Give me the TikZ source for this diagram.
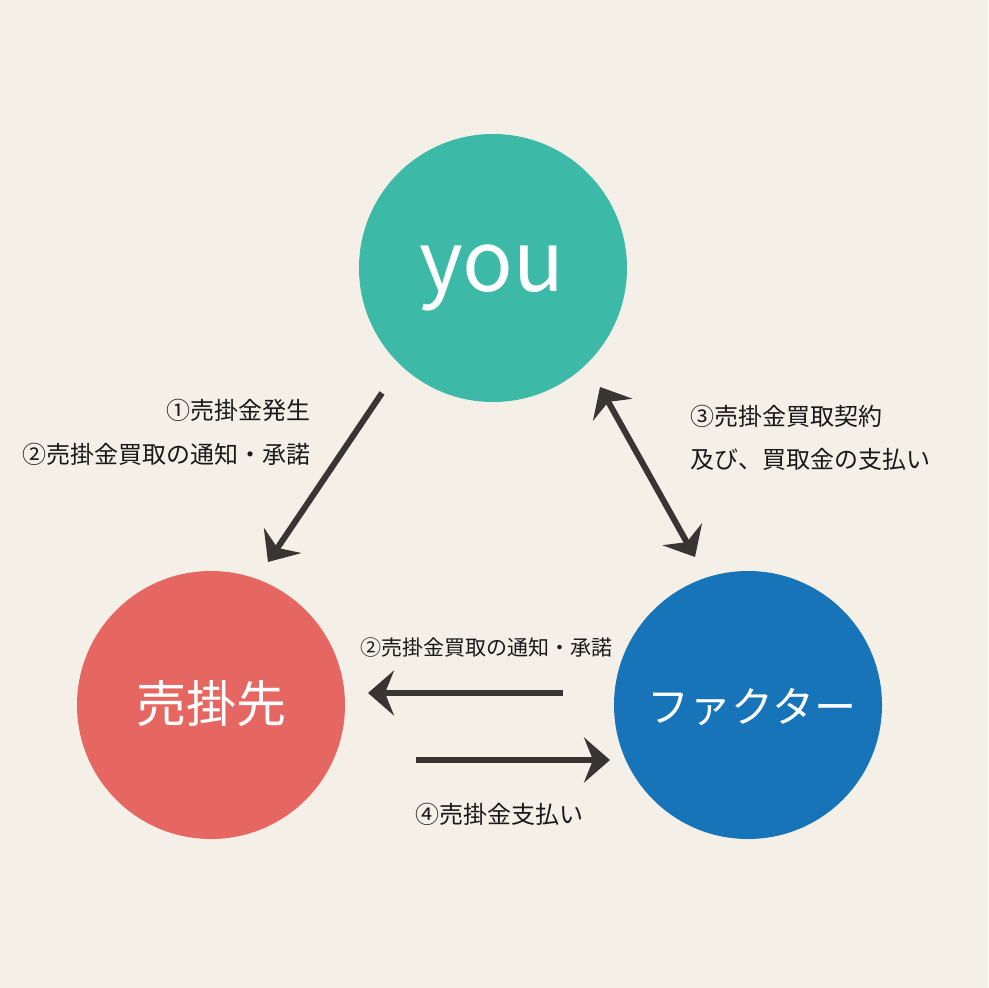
\documentclass[tikz,border=0pt]{standalone}
\usepackage{fontspec}
\setmainfont{Noto Sans CJK JP}
\usetikzlibrary{arrows.meta}
\definecolor{bg}{HTML}{F4F0E8}
\definecolor{teal}{HTML}{3DB9A7}
\definecolor{redc}{HTML}{E66661}
\definecolor{bluec}{HTML}{1774B8}
\definecolor{arr}{HTML}{383533}
\begin{document}
\begin{tikzpicture}[x=1pt,y=-1pt,
  party/.style={circle,minimum size=268pt,inner sep=0pt},
  conn/.style={draw=arr,line width=6pt,-{Stealth[length=26pt,width=45pt,inset=9pt]}},
  biconn/.style={draw=arr,line width=6pt,{Stealth[length=26pt,width=45pt,inset=9pt]}-{Stealth[length=26pt,width=45pt,inset=9pt]}},
  lbl/.style={inner sep=0pt,font=\fontsize{24pt}{28pt}\selectfont,text=black!90},
  mlbl/.style={inner sep=0pt,font=\fontsize{21pt}{25pt}\selectfont,text=black!90},
  big/.style={inner sep=0pt,text=white}]
\fill[bg] (0,0) rectangle (988,988);
\useasboundingbox (0,0) rectangle (988,988);
\node[party,fill=teal] (you) at (493,268) {};
\node[party,fill=redc] (uri) at (211,705) {};
\node[party,fill=bluec] (fac) at (748,705) {};
\node[big,anchor=base,font=\fontsize{84pt}{94pt}\selectfont] (youtext) at (492,291) {you};
\node[big,font=\fontsize{50pt}{56pt}\selectfont] (uritext) at (211,704) {売掛先};
\node[big,font=\fontsize{42pt}{48pt}\selectfont] (factext) at (752,707) {ファクター};
\coordinate (a1s) at (382,393);
\coordinate (a1e) at (268,562);
\coordinate (a2s) at (600,387);
\coordinate (a2e) at (695,557);
\coordinate (a3s) at (563,693);
\coordinate (a3e) at (368,693);
\coordinate (a4s) at (416,760);
\coordinate (a4e) at (610,760);
\draw[conn] (a1s) -- (a1e);
\draw[biconn] (a2s) -- (a2e);
\draw[conn] (a3s) -- (a3e);
\draw[conn] (a4s) -- (a4e);
\node[lbl,anchor=east] (l1) at (311,410) {①売掛金発生};
\node[lbl,anchor=east] (l2) at (311,454) {②売掛金買取の通知・承諾};
\node[lbl,anchor=west] (r1) at (690,416) {③売掛金買取契約};
\node[lbl,anchor=west] (r2) at (690,459) {及び、買取金の支払い};
\node[mlbl] (m1) at (486,648) {②売掛金買取の通知・承諾};
\node[lbl] (m2) at (499,814) {④売掛金支払い};
\end{tikzpicture}
\end{document}
